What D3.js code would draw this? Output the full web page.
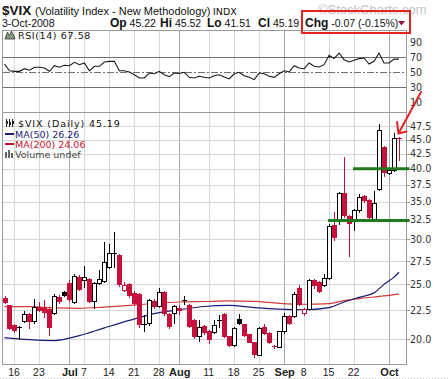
<!DOCTYPE html>
<html><head><meta charset="utf-8">
<script src="https://cdn.jsdelivr.net/npm/d3@7"></script>
<style>
html,body{margin:0;padding:0;background:#fff;}
svg{display:block;}
</style></head><body>
<svg id="chart" width="448" height="379"></svg>
<script>
// ---------------- DATA ----------------
const dates = [
 "2008-06-12","2008-06-13","2008-06-16","2008-06-17","2008-06-18","2008-06-19","2008-06-20",
 "2008-06-23","2008-06-24","2008-06-25","2008-06-26","2008-06-27","2008-06-30",
 "2008-07-01","2008-07-02","2008-07-03","2008-07-07","2008-07-08","2008-07-09","2008-07-10","2008-07-11",
 "2008-07-14","2008-07-15","2008-07-16","2008-07-17","2008-07-18","2008-07-21","2008-07-22","2008-07-23",
 "2008-07-24","2008-07-25","2008-07-28","2008-07-29","2008-07-30","2008-07-31",
 "2008-08-01","2008-08-04","2008-08-05","2008-08-06","2008-08-07","2008-08-08","2008-08-11","2008-08-12",
 "2008-08-13","2008-08-14","2008-08-15","2008-08-18","2008-08-19","2008-08-20","2008-08-21","2008-08-22",
 "2008-08-25","2008-08-26","2008-08-27","2008-08-28","2008-08-29",
 "2008-09-02","2008-09-03","2008-09-04","2008-09-05","2008-09-08","2008-09-09","2008-09-10","2008-09-11",
 "2008-09-12","2008-09-15","2008-09-16","2008-09-17","2008-09-18","2008-09-19","2008-09-22","2008-09-23",
 "2008-09-24","2008-09-25","2008-09-26","2008-09-29","2008-09-30",
 "2008-10-01","2008-10-02","2008-10-03"];

const opens = [23.65,22.99,21.2,20.94,21.57,22.2,21.57,22.83,22.67,22.58,22.3,23.77,24.2,
 25.15,23.3,25.8,25.45,25.6,23.4,25.1,25.3,26.85,28.3,28.15,24.45,25.0,24.1,24.0,21.2,
 21.33,23.4,22.9,24.2,22.2,22.3,22.7,23.42,23.0,21.6,20.3,21.1,20.7,20.6,
 21.55,22.2,20.25,19.55,21.74,21.25,20.4,19.75,18.8,21.05,20.5,19.45,19.4,
 20.65,22.0,21.95,24.6,22.25,22.65,25.4,25.2,24.9,25.65,31.8,32.5,36.3,33.0,32.4,33.8,
 35.8,35.2,32.6,36.9,43.6,39.3,39.8,45.22];
const highs = [23.85,23.0,21.3,21.15,22.4,22.3,23.6,23.3,23.46,22.7,24.0,23.95,24.35,
 25.45,26.1,26.0,26.92,25.7,25.2,26.49,29.65,29.5,30.9,28.3,25.2,25.1,24.3,24.1,22.07,
 23.6,23.6,24.6,24.3,22.3,23.0,23.0,23.8,23.1,21.7,21.6,21.2,20.8,21.6,
 22.1,22.3,20.3,21.0,22.13,21.3,20.45,19.8,21.0,21.3,20.6,19.55,20.7,
 22.3,22.1,24.2,24.95,22.7,25.6,25.6,25.3,26.1,31.9,33.6,36.4,42.0,33.2,34.0,36.1,
 36.0,35.4,36.5,48.0,43.8,40.0,46.3,45.52];
const lows = [23.2,20.85,20.6,20.0,21.45,20.94,21.4,22.4,21.9,20.35,22.2,23.2,23.85,
 23.4,23.2,24.4,24.77,23.3,22.7,25.0,25.2,26.7,26.85,24.8,24.3,23.78,23.0,21.05,20.7,
 21.2,22.7,22.8,22.1,20.9,21.4,22.2,23.1,21.0,20.1,19.9,20.4,19.7,20.5,
 21.05,20.2,19.5,19.5,21.3,20.3,19.75,18.6,18.75,20.4,19.7,19.3,19.35,
 20.55,21.3,21.9,22.95,22.05,22.6,24.6,24.2,24.8,25.6,29.9,32.0,32.9,28.0,31.2,33.6,
 35.0,32.5,32.4,36.7,38.8,39.2,39.7,41.51];
const closes = [23.27,20.9,20.77,21.06,22.2,21.5,22.83,22.52,22.36,21.05,23.84,23.4,23.9,
 23.52,25.9,24.5,25.75,23.4,25.1,25.5,27.4,28.35,28.45,25.0,24.9,23.94,23.2,21.25,21.3,
 23.46,22.9,24.2,22.3,21.1,22.9,22.5,23.5,21.1,20.3,21.05,20.6,20.0,21.2,
 21.6,20.3,19.55,20.95,21.35,20.35,19.8,18.81,20.97,20.5,19.75,19.4,20.65,
 22.0,21.4,24.03,23.06,22.64,25.47,24.9,24.35,25.66,31.7,30.3,36.22,33.1,32.07,33.84,35.72,
 35.2,32.82,34.74,46.72,39.39,39.81,45.26,45.19];

const rsiValues = [61,52,51.3,51.3,54.8,52.7,56.7,56.7,55.7,51.3,58.8,56.7,59.3,
 58.8,63.3,60.2,62.4,52,58,58,63.7,64.6,64.6,52,52,50.4,46.8,42.4,42.4,
 49,48,51.3,46.8,44.2,49,48.4,50,43.3,42.4,44.7,43.3,42.4,45.5,
 46.8,43.8,41.1,48,50,45.5,43.5,40.2,49,48,44.7,43.3,48,
 52,50.5,58.8,55.7,54.8,62.4,58,57,60.2,72.6,68.2,75.7,66.8,63.7,66,68.2,
 69.1,61,64.6,75.7,62.4,62.4,67.7,67.58];

// moving averages at sample dates
const maSampleDates = ["2008-06-12","2008-06-19","2008-06-26","2008-07-03","2008-07-11","2008-07-18",
 "2008-07-25","2008-08-01","2008-08-08","2008-08-15","2008-08-22","2008-08-29","2008-09-08",
 "2008-09-15","2008-09-18","2008-09-23","2008-09-26","2008-09-30","2008-10-02","2008-10-03"];
const ma50Values = [20.13,19.97,19.9,20.3,20.95,21.6,22.2,22.55,22.85,22.95,22.75,22.6,22.55,
 22.75,23.27,23.72,24.15,25.0,25.75,26.26];
const ma200Values = [22.83,22.83,22.72,22.68,22.8,22.95,23.13,23.27,23.32,23.37,23.33,23.15,23.06,
 23.12,23.4,23.6,23.75,23.85,23.98,24.06];

const yTickValues = [20,22.5,25,27.5,30,32.5,35,37.5,40,42.5,45,47.5];
const rsiTickValues = [90,70,50,30,10];
const xTickDates = ["2008-06-16","2008-06-23","2008-07-01","2008-07-07","2008-07-14","2008-07-21",
 "2008-07-28","2008-08-01","2008-08-11","2008-08-18","2008-08-25","2008-09-02","2008-09-08",
 "2008-09-15","2008-09-22","2008-10-01"];
const xTickLabels = ["16","23","Jul","7","14","21","28","Aug","11","18","25","Sep","8","15","22","Oct"];

const greenLevels = [40.0, 32.4];
const greenStartDates = ["2008-09-22","2008-09-15"];

// ---------------- LAYOUT ----------------
const L = 2.5, R = 406.5;
const rsiTop = 30.5, rsiBot = 112.5;
const mainTop = 112.5, mainBot = 364.5;
const RED = "#c8103c", NAVY = "#1c1c78", MA_RED = "#d23a3a";

const svg = d3.select("#chart");
const x = d3.scalePoint().domain(dates).range([4.5, 399]);
const y = d3.scaleLog().domain([18.09, 50.36]).range([364, 112]);
const yr = d3.scaleLinear().domain([0, 100]).range([109.8, 34.8]);
const px = v => Math.round(v) + 0.5;
const isMonth = lbl => /[A-Za-z]/.test(lbl);

// grid: vertical lines in both panels
const g = svg.append("g").attr("shape-rendering", "crispEdges");
xTickDates.forEach((d, k) => {
  const xx = px(x(d));
  const col = isMonth(xTickLabels[k]) ? "#a8a8a8" : "#d6d6d6";
  g.append("line").attr("x1", xx).attr("x2", xx).attr("y1", rsiTop).attr("y2", rsiBot).attr("stroke", col);
  g.append("line").attr("x1", xx).attr("x2", xx).attr("y1", mainTop).attr("y2", mainBot).attr("stroke", col);
});
// horizontal grid main
yTickValues.forEach(v => {
  g.append("line").attr("x1", L).attr("x2", R).attr("y1", px(y(v))).attr("y2", px(y(v))).attr("stroke", "#d6d6d6");
});
// RSI reference lines
[70, 30].forEach(v => {
  g.append("line").attr("x1", L).attr("x2", R).attr("y1", px(yr(v))).attr("y2", px(yr(v))).attr("stroke", "#707070");
});
g.append("line").attr("x1", L).attr("x2", R).attr("y1", px(yr(50))).attr("y2", px(yr(50)))
  .attr("stroke", "#707070").attr("stroke-dasharray", "7,2,2,2");

// panel frames
g.append("rect").attr("x", L).attr("y", rsiTop).attr("width", R - L).attr("height", rsiBot - rsiTop)
  .attr("fill", "none").attr("stroke", "#9a9a9a");
g.append("rect").attr("x", L).attr("y", mainTop).attr("width", R - L).attr("height", mainBot - mainTop)
  .attr("fill", "none").attr("stroke", "#9a9a9a");

// right axis labels and ticks
const axisFont = "'DejaVu Sans', Verdana, sans-serif";
yTickValues.forEach(v => {
  g.append("line").attr("x1", R).attr("x2", R + 3).attr("y1", px(y(v))).attr("y2", px(y(v))).attr("stroke", "#9a9a9a");
  svg.append("text").attr("x", 410).attr("y", y(v) + 3.6).text(d3.format(".1f")(v))
    .attr("font-family", axisFont).attr("font-size", "9.6px").attr("fill", "#333");
});
rsiTickValues.forEach(v => {
  svg.append("text").attr("x", 410).attr("y", yr(v) + 3.6).text(v)
    .attr("font-family", axisFont).attr("font-size", "9.6px").attr("fill", "#333");
});

// x labels
xTickDates.forEach((d, k) => {
  const m = isMonth(xTickLabels[k]);
  svg.append("text").attr("x", x(d) + (m ? 0.5 : -0.5)).attr("y", 376).attr("text-anchor", "middle")
    .text(xTickLabels[k]).attr("font-family", "'Liberation Sans', Arial, sans-serif")
    .attr("font-size", m ? "11px" : "10.5px").attr("font-weight", m ? "bold" : "normal").attr("fill", "#222");
});
svg.append("line").attr("x1", 0).attr("x2", 448).attr("y1", 378.5).attr("y2", 378.5)
  .attr("stroke", "#bbb").attr("stroke-dasharray", "1,2");

// RSI line
svg.append("path").datum(rsiValues)
  .attr("d", d3.line().x((v, i) => x(dates[i])).y(v => yr(v)))
  .attr("fill", "none").attr("stroke", "#1a1a1a").attr("stroke-width", 1.1);

// MA lines
const maLine = vals => d3.line().x((d, i) => x(maSampleDates[i])).y(v => y(v)).curve(d3.curveMonotoneX)(vals);
svg.append("path").attr("d", maLine(ma200Values)).attr("fill", "none").attr("stroke", MA_RED).attr("stroke-width", 1.2);
svg.append("path").attr("d", maLine(ma50Values)).attr("fill", "none").attr("stroke", NAVY).attr("stroke-width", 1.2);

// candles
const cg = svg.append("g").attr("shape-rendering", "crispEdges");
dates.forEach((d, i) => {
  const o = opens[i], h = highs[i], l = lows[i], c = closes[i];
  const prev = i > 0 ? closes[i - 1] : o;
  const col = c < prev ? RED : "#000";
  const hollow = c >= o;
  const cx = Math.round(x(d));
  cg.append("line").attr("x1", cx + 0.5).attr("x2", cx + 0.5)
    .attr("y1", Math.round(y(h))).attr("y2", Math.round(y(l)) + 1).attr("stroke", col);
  const top = Math.round(y(Math.max(o, c))), bot = Math.round(y(Math.min(o, c)));
  const hgt = Math.max(bot - top, 1);
  cg.append("rect").attr("x", cx - 1.5).attr("y", top + 0.5).attr("width", 4).attr("height", hgt - 1 > 0 ? hgt : 0.01)
    .attr("fill", hollow ? "#fff" : col).attr("stroke", col);
});

// green support lines
greenLevels.forEach((v, k) => {
  svg.append("line").attr("x1", x(greenStartDates[k]) - 1).attr("x2", R + 3)
    .attr("y1", y(v)).attr("y2", y(v)).attr("stroke", "#1f7a1f").attr("stroke-width", 3);
});

// legends
const legFont = "'DejaVu Sans', Verdana, sans-serif";
const leg = svg.append("g").attr("font-family", legFont).attr("font-size", "9.5px");
leg.append("text").attr("x", 18).attr("y", 127).text("$VIX (Daily) 45.19").attr("fill", "#111").attr("letter-spacing", "0.9px");
leg.append("text").attr("x", 15).attr("y", 137.5).text("MA(50) 26.26").attr("fill", NAVY);
leg.append("text").attr("x", 15).attr("y", 147.5).text("MA(200) 24.06").attr("fill", "#c8102e");
leg.append("text").attr("x", 15).attr("y", 157.5).text("Volume undef").attr("fill", "#444");
leg.append("text").attr("x", 18).attr("y", 38.5).text("RSI(14) 67.58").attr("fill", "#111").attr("letter-spacing", "0.6px");
// legend icons
const ic = svg.append("g").attr("shape-rendering", "crispEdges");
[6, 9, 12].forEach((xx, k) => {
  ic.append("line").attr("x1", xx + 0.5).attr("x2", xx + 0.5).attr("y1", 119).attr("y2", 127).attr("stroke", "#222");
  ic.append("rect").attr("x", xx - 0.5).attr("y", 121 + k % 2).attr("width", 2).attr("height", 3).attr("fill", "#222");
});
ic.append("line").attr("x1", 5).attr("x2", 14).attr("y1", 134).attr("y2", 134).attr("stroke", NAVY).attr("stroke-width", 2);
ic.append("line").attr("x1", 5).attr("x2", 14).attr("y1", 144).attr("y2", 144).attr("stroke", "#c8102e").attr("stroke-width", 2);
[[6, 152], [9, 150], [12, 153]].forEach(([xx, yy]) => {
  ic.append("rect").attr("x", xx - 1).attr("y", yy).attr("width", 2).attr("height", 158 - yy).attr("fill", "#666");
});
svg.append("path").attr("d", "M5,39 L7.5,32 L9.5,35.5 L11.5,31 L14,36 L15,39 Z")
  .attr("fill", "#7f9a7f").attr("stroke", "#333").attr("stroke-width", 0.8);

// header
const hf = "'Liberation Sans', Arial, sans-serif";
svg.append("text").attr("x", 318).attr("y", 13.5).text("\u00A9StockCharts.com")
  .attr("font-family", hf).attr("font-size", "13px").attr("fill", "#c4c4c4");
svg.append("text").attr("x", 2).attr("y", 15).text("$VIX")
  .attr("font-family", hf).attr("font-size", "13.5px").attr("font-weight", "bold").attr("fill", "#111");
svg.append("text").attr("x", 35).attr("y", 14.5).text("(Volatility Index - New Methodology)")
  .attr("font-family", hf).attr("font-size", "11px").attr("fill", "#111");
svg.append("text").attr("x", 213).attr("y", 14.5).text("INDX")
  .attr("font-family", legFont).attr("font-size", "9.5px").attr("fill", "#111");
svg.append("text").attr("x", 2).attr("y", 26.5).text("3-Oct-2008")
  .attr("font-family", hf).attr("font-size", "10.5px").attr("fill", "#111");
const quote = [[110, "Op", "45.22"], [160, "Hi", "45.52"], [207, "Lo", "41.51"], [258, "Cl", "45.19"], [305, "Chg", "-0.07 (-0.15%)"]];
quote.forEach(([xx, lab, val]) => {
  const t = svg.append("text").attr("x", xx).attr("y", 26.5).attr("font-family", hf).attr("fill", "#111");
  t.append("tspan").text(lab).attr("font-weight", "bold").attr("font-size", "12px");
  t.append("tspan").text(" " + val).attr("font-size", "10.5px");
});
svg.append("path").attr("d", "M398,21 L405,21 L401.5,25.5 Z").attr("fill", "#9c1040");
svg.append("rect").attr("x", 302).attr("y", 11).attr("width", 108).attr("height", 22)
  .attr("fill", "none").attr("stroke", "#e02424").attr("stroke-width", 2);

// red arrow
svg.append("path").attr("d", "M421,92 L398.5,133.5 M397,122 L398.5,133.5 L406.5,131.5")
  .attr("fill", "none").attr("stroke", "#e02424").attr("stroke-width", 2).attr("stroke-linecap", "round");
</script>
</body></html>
